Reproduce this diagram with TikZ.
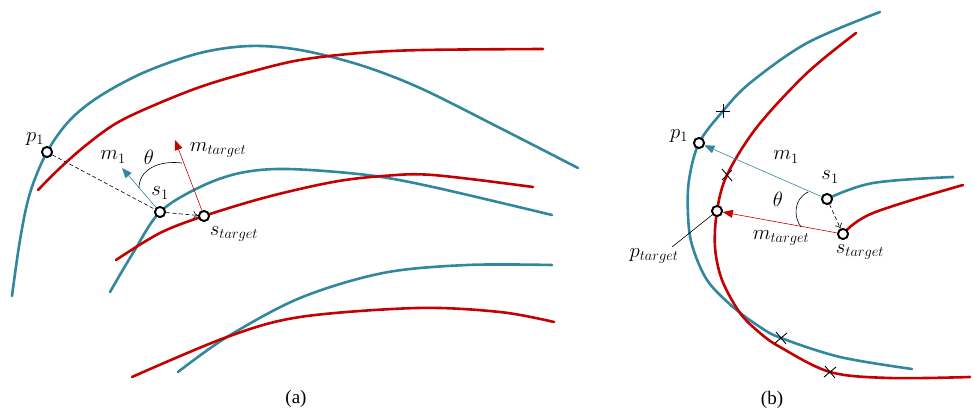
\documentclass[tikz,border=0pt]{standalone}
\usepackage[no-math]{fontspec}
\setmainfont{Liberation Serif}
\usetikzlibrary{arrows.meta}
\definecolor{teal1}{RGB}{49,136,158}
\definecolor{red1}{RGB}{196,0,0}
\begin{document}
\begin{tikzpicture}[x=1pt,y=-1pt,
  bcurve/.style={teal1,line width=2.6pt,line cap=round},
  rcurve/.style={red1,line width=2.6pt,line cap=round},
  pt/.style={circle,draw=black,fill=white,line width=1.8pt,minimum size=10pt,inner sep=0pt},
  lbl/.style={font=\fontsize{22.5}{26}\selectfont,inner sep=0pt},
  captxt/.style={font=\fontsize{19}{22}\selectfont,inner sep=0pt},
  tarrow/.style={teal1,line width=0.6pt,-{Triangle[length=10pt,width=8pt]}},
  rarrow/.style={red1,line width=0.6pt,-{Triangle[length=10pt,width=8pt]}},
  darrow/.style={black,line width=0.6pt,dash pattern=on 4pt off 2.5pt,-{To[length=5pt,width=8pt]}},
  dline/.style={black,line width=0.6pt,dash pattern=on 4pt off 2.5pt},
  xmark/.style={black,line width=0.9pt}]
\useasboundingbox (0,0) rectangle (973,412);
% ---------------- (a) ----------------
\draw[bcurve] plot[smooth,tension=0.55] coordinates {(12,296) (20,240) (30,193) (47,152) (70,120) (100,96) (145,72) (200,53) (250,46) (300,50) (360,65) (420,88) (500,128) (578,168)};
\draw[rcurve] plot[smooth,tension=0.55] coordinates {(38,190) (60,168) (85,146) (115,124) (150,107) (200,87) (250,72) (300,60) (360,53) (423,50) (543,49)};
\draw[bcurve] plot[smooth,tension=0.55] coordinates {(110,292) (133,253) (160,212) (200,187) (240,173) (287,169) (367,175) (433,187) (552,215)};
\draw[rcurve] plot[smooth,tension=0.55] coordinates {(116,260) (160,233) (204,216) (267,197) (333,182) (383,176) (433,175) (533,187)};
\draw[bcurve] plot[smooth,tension=0.55] coordinates {(178,372) (227,337) (300,298) (383,273) (467,265) (552,265)};
\draw[rcurve] plot[smooth,tension=0.55] coordinates {(132,377) (227,337) (300,317) (417,308) (500,312) (554,322)};

\coordinate (am1tip) at (122,168);
\coordinate (amttip) at (175,140);
\node[pt] (ap1) at (47,152) {};
\node[pt] (as1) at (160,212) {};
\node[pt] (ast) at (204,216) {};
\draw[dline] (ap1) -- (as1);
\draw[darrow] (as1) -- (ast);
\draw[tarrow] (as1) -- (am1tip);
\draw[rarrow] (ast) -- (amttip);
\draw[black,line width=0.6pt] (139,188) .. controls (139,170) and (158,160) .. (182,163);
\node[pt] at (ap1) {};
\node[pt] at (as1) {};
\node[pt] at (ast) {};

\node[lbl] (lap1) at (35,139) {$p_1$};
\node[lbl] (lam1) at (113,157) {$m_1$};
\node[lbl] (lath) at (149,157) {$\theta$};
\node[lbl] (lamt) at (218,150) {$m_{target}$};
\node[lbl] (las1) at (160,193) {$s_1$};
\node[lbl] (last) at (234,234) {$s_{target}$};
\node[captxt] (capa) at (296,399) {(a)};

% ---------------- (b) ----------------
\draw[bcurve] plot[smooth,tension=0.55] coordinates {(880,12) (807,43) (750,83) (723,111) (699,143) (689,180) (688,215) (692,245) (707,280) (733,307) (760,327) (781,338) (840,357) (912,369)};
\draw[rcurve] plot[smooth,tension=0.55] coordinates {(856,33) (807,73) (757,127) (727,175) (717,211) (715,247) (722,280) (740,313) (760,333) (780,347) (830,372) (890,378) (970,377)};
\draw[bcurve] plot[smooth,tension=0.6] coordinates {(827,199) (873,183) (953,177)};
\draw[rcurve] plot[smooth,tension=0.6] coordinates {(843,234) (873,213) (963,185)};

\node[pt] (bp1) at (699,143) {};
\node[pt] (bs1) at (827,199) {};
\node[pt] (bst) at (843,234) {};
\node[pt] (bpt) at (717,211) {};
\draw[tarrow] (bs1) -- (bp1);
\draw[rarrow] (bst) -- (bpt);
\draw[darrow] (bs1) -- (bst);
\draw[black,line width=0.6pt] (808,192) .. controls (794,199) and (793,216) .. (801,227);
\node[pt] at (bp1) {};
\node[pt] at (bs1) {};
\node[pt] at (bst) {};
\node[pt] at (bpt) {};

% crosses
\draw[xmark] (723,104) -- (723,118) (716,111) -- (730,111);
\draw[xmark] ([shift={(-5,-6)}]727,175) -- ([shift={(5,6)}]727,175) ([shift={(-5,5)}]727,175) -- ([shift={(5,-5)}]727,175);
\draw[xmark] ([shift={(-5,-6)}]781,338) -- ([shift={(5,6)}]781,338) ([shift={(-6,5)}]781,338) -- ([shift={(6,-5)}]781,338);
\draw[xmark] ([shift={(-5,-6)}]830,372) -- ([shift={(5,6)}]830,372) ([shift={(-6,5)}]830,372) -- ([shift={(6,-5)}]830,372);

\node[lbl] (lbp1) at (679,136) {$p_1$};
\node[lbl] (lbm1) at (786,157) {$m_1$};
\node[lbl] (lbs1) at (830,177) {$s_1$};
\node[lbl] (lbth) at (778,199) {$\theta$};
\node[lbl] (lbmt) at (781,238) {$m_{target}$};
\node[lbl] (lbst) at (860,252) {$s_{target}$};
\node[lbl] (lbpt) at (654,256) {$p_{target}$};
\coordinate (lead) at (672,247);
\draw[black,line width=0.6pt] (lead) -- (bpt);
\node[captxt] (capb) at (772,400) {(b)};
\end{tikzpicture}
\end{document}
